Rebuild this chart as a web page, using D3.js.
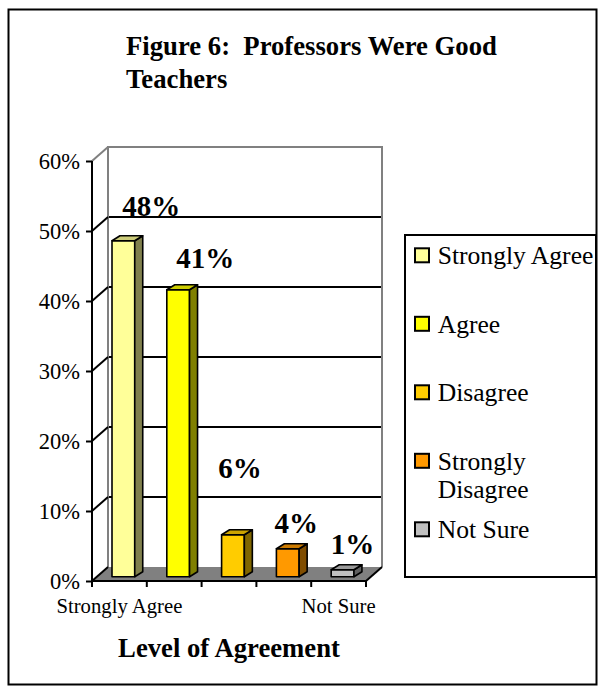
<!DOCTYPE html>
<html>
<head>
<meta charset="utf-8">
<script src="https://cdn.jsdelivr.net/npm/d3@7"></script>
<style>
  html, body { margin: 0; padding: 0; background: #fff; }
  svg { display: block; }
</style>
</head>
<body>
<svg id="chart" width="603" height="692"></svg>
<script>
// ---- data ----
const categories = ["Strongly Agree", "Agree", "Disagree", "Strongly Disagree", "Not Sure"];
const values = [48, 41, 6, 4, 1];
const valueLabels = ["48%", "41%", "6%", "4%", "1%"];
const yTicks = [0, 10, 20, 30, 40, 50, 60];
const xTickLabels = ["Strongly Agree", "", "", "", "Not Sure"];
const legendLabels = [["Strongly Agree"], ["Agree"], ["Disagree"], ["Strongly", "Disagree"], ["Not Sure"]];

// ---- styles / layout ----
const colors = ["#FFFF99", "#FFFF00", "#FFCC00", "#FF9900", "#C0C0C0"];
const labelNudgeX = [28, 27, 7, 8.5, 10];
const labelNudgeY = [25, 22, 57, 16, 16];
const serif = "'Liberation Serif', 'Times New Roman', serif";

const svg = d3.select("#chart").style("font-family", serif);

function txt(sel) {
  return sel.style("font-family", serif).attr("fill", "#000");
}

// outer border
svg.append("rect").attr("x", 8.5).attr("y", 9.5).attr("width", 588).attr("height", 675)
  .attr("fill", "none").attr("stroke", "#000").attr("stroke-width", 2);

// title
const title = txt(svg.append("text")).attr("font-weight", "bold").style("font-size", "26.7px");
title.append("tspan").attr("x", 126).attr("y", 55).text("Figure 6:\u00a0\u00a0Professors Were Good");
title.append("tspan").attr("x", 126).attr("y", 88.3).text("Teachers");

// scales
const x = d3.scaleBand().domain(categories).range([92, 366]).padding(0);
const y = d3.scaleLinear().domain([0, 60]).range([581, 161]);
const D = { dx: 16, dy: -14 };          // full depth of plot box
const front = { dx: 5, dy: -4.3 };      // bar front face offset
const bd = { dx: 8, dy: -5 };           // bar depth

const bx0 = x.range()[0], bx1 = x.range()[1];

// floor
svg.append("polygon")
  .attr("points", [[bx0, y(0)], [bx1, y(0)], [bx1 + D.dx, y(0) + D.dy], [bx0 + D.dx, y(0) + D.dy]].map(p => p.join(",")).join(" "))
  .attr("fill", "#808080").attr("stroke", "none");

// back wall gridlines
svg.append("g").selectAll("line").data(yTicks.filter(t => t > 0 && t < 60)).join("line")
  .attr("x1", bx0 + D.dx).attr("x2", bx1 + D.dx)
  .attr("y1", d => y(d) + D.dy).attr("y2", d => y(d) + D.dy)
  .attr("stroke", "#000").attr("stroke-width", 2);

// back wall frame (grey)
svg.append("path")
  .attr("d", `M${bx0 + D.dx},${y(0) + D.dy} L${bx0 + D.dx},${y(60) + D.dy} L${bx1 + D.dx},${y(60) + D.dy} L${bx1 + D.dx},${y(0) + D.dy}`)
  .attr("fill", "none").attr("stroke", "#808080").attr("stroke-width", 2);

// side-wall diagonals at each tick
svg.append("g").selectAll("line").data(yTicks).join("line")
  .attr("x1", bx0).attr("y1", d => y(d))
  .attr("x2", bx0 + D.dx).attr("y2", d => y(d) + D.dy)
  .attr("stroke", d => d === 60 ? "#808080" : "#000").attr("stroke-width", 2);

// floor right diagonal
svg.append("line").attr("x1", bx1).attr("y1", y(0)).attr("x2", bx1 + D.dx).attr("y2", y(0) + D.dy)
  .attr("stroke", "#000").attr("stroke-width", 2);

// bars
const shade = (c, k) => { const r = d3.rgb(c); return d3.rgb(r.r * k, r.g * k, r.b * k).formatHex(); };
const bw = x.bandwidth() * 0.415;
const bars = svg.append("g").selectAll("g").data(categories).join("g");
bars.each(function (c, i) {
  const g = d3.select(this);
  const x0 = x(c) + x.bandwidth() * 0.365;
  const x1 = x0 + bw;
  const yb = y(0) + front.dy, yt = y(values[i]) + front.dy;
  g.append("polygon").attr("points", [[x0, yb], [x1, yb], [x1, yt], [x0, yt]].map(p => p.join(",")).join(" "))
    .attr("fill", colors[i]).attr("stroke", "#000").attr("stroke-width", 1.6).attr("stroke-linejoin", "round");
  g.append("polygon").attr("points", [[x1, yb], [x1 + bd.dx, yb + bd.dy], [x1 + bd.dx, yt + bd.dy], [x1, yt]].map(p => p.join(",")).join(" "))
    .attr("fill", shade(colors[i], 0.5)).attr("stroke", "#000").attr("stroke-width", 1.6).attr("stroke-linejoin", "round");
  g.append("polygon").attr("points", [[x0, yt], [x1, yt], [x1 + bd.dx, yt + bd.dy], [x0 + bd.dx, yt + bd.dy]].map(p => p.join(",")).join(" "))
    .attr("fill", shade(colors[i], 0.8)).attr("stroke", "#000").attr("stroke-width", 1.6).attr("stroke-linejoin", "round");
  txt(svg.append("text"))
    .attr("x", x0 + bw / 2 + labelNudgeX[i])
    .attr("y", yt - labelNudgeY[i])
    .attr("text-anchor", "middle").attr("font-weight", "bold").style("font-size", "29px")
    .text(valueLabels[i]);
});

// y axis
const yAxis = svg.append("g").attr("transform", `translate(${bx0},0)`)
  .call(d3.axisLeft(y).tickValues(yTicks).tickSize(6).tickPadding(6).tickFormat(d => d + "%"));
yAxis.attr("font-family", null);
yAxis.select(".domain").attr("stroke", "#000").attr("stroke-width", 2).attr("d", `M0,${y(0)}V${y(60)}`);
yAxis.selectAll(".tick line").attr("stroke", "#000").attr("stroke-width", 2);
txt(yAxis.selectAll(".tick text")).style("font-size", "22.5px");

// x axis baseline and boundary ticks
const xAxis = svg.append("g").attr("transform", `translate(0,${y(0)})`)
  .call(d3.axisBottom(x).tickSize(0).tickPadding(17).tickFormat((d, i) => xTickLabels[i]));
xAxis.attr("font-family", null);
xAxis.select(".domain").attr("stroke", "#000").attr("stroke-width", 2).attr("d", `M${bx0},0H${bx1}`);
txt(xAxis.selectAll(".tick text")).style("font-size", "20.7px").attr("dy", "0.71em");
const bounds = categories.map(c => x(c)).concat([bx1]);
xAxis.append("g").selectAll("line").data(bounds).join("line")
  .attr("x1", d => d).attr("x2", d => d).attr("y1", 0).attr("y2", 6)
  .attr("stroke", "#000").attr("stroke-width", 2);

// x axis title
txt(svg.append("text")).attr("x", (bx0 + bx1) / 2).attr("y", 656.7)
  .attr("text-anchor", "middle").attr("font-weight", "bold").style("font-size", "26.7px")
  .text("Level of Agreement");

// legend
const lg = svg.append("g");
lg.append("rect").attr("x", 405).attr("y", 235).attr("width", 191).attr("height", 342)
  .attr("fill", "#fff").attr("stroke", "#000").attr("stroke-width", 2);
legendLabels.forEach((lines, i) => {
  lg.append("rect").attr("x", 415).attr("y", 248.3 + 68.5 * i).attr("width", 14).attr("height", 14)
    .attr("fill", colors[i]).attr("stroke", "#000").attr("stroke-width", 2);
  const t = txt(lg.append("text")).style("font-size", "25.6px");
  lines.forEach((ln, j) => {
    t.append("tspan").attr("x", 437.7).attr("y", 264.3 + 68.5 * i + 28 * j).text(ln);
  });
});
</script>
</body>
</html>
